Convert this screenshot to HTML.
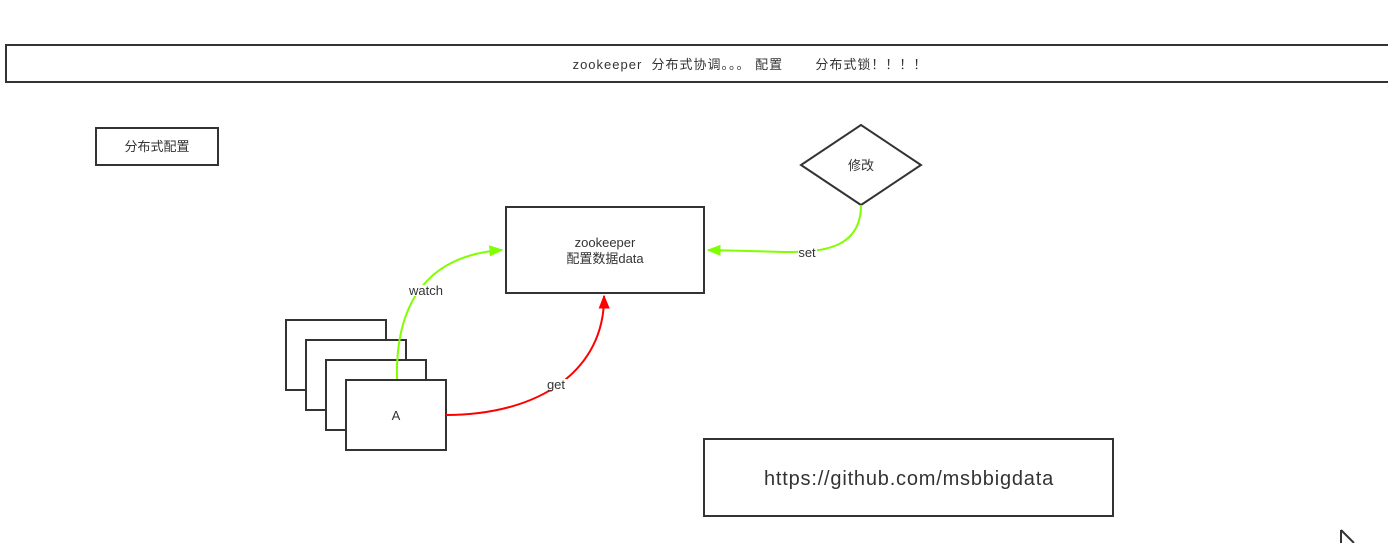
<!DOCTYPE html>
<html><head><meta charset="utf-8"><style>
html,body{margin:0;padding:0;background:#fff;}
svg{display:block;}
text{font-family:"Liberation Sans","Noto Sans CJK SC",sans-serif;fill:#333;}
</style></head><body>
<svg width="1388" height="543" viewBox="0 0 1388 543">
<defs>
<marker id="ga" viewBox="0 0 10 10" refX="9" refY="5" markerWidth="14" markerHeight="14" markerUnits="userSpaceOnUse" orient="auto"><path d="M0,1 L10,5 L0,9 z" fill="#7fff00"/></marker>
<marker id="ra" viewBox="0 0 10 10" refX="9" refY="5" markerWidth="14" markerHeight="14" markerUnits="userSpaceOnUse" orient="auto"><path d="M0,1 L10,5 L0,9 z" fill="#ff0000"/></marker>
</defs>
<rect x="6" y="45" width="1390" height="37" fill="#fff" stroke="#333" stroke-width="2"/>
<text x="750" y="69" font-size="13" text-anchor="middle" letter-spacing="1" xml:space="preserve">zookeeper  分布式协调。。。 配置       分布式锁！！！！</text>
<rect x="96" y="128" width="122" height="37" fill="#fff" stroke="#333" stroke-width="2"/>
<text x="157" y="151" font-size="13" text-anchor="middle">分布式配置</text>
<polygon points="861,125 921,165 861,205 801,165" fill="#fff" stroke="#333" stroke-width="2"/>
<text x="861" y="170" font-size="13" text-anchor="middle">修改</text>
<rect x="506" y="207" width="198" height="86" fill="#fff" stroke="#333" stroke-width="2"/>
<text x="605" y="247" font-size="13" text-anchor="middle">zookeeper</text>
<text x="605" y="263" font-size="13" text-anchor="middle">配置数据data</text>
<rect x="286" y="320" width="100" height="70" fill="#fff" stroke="#333" stroke-width="2"/>
<rect x="306" y="340" width="100" height="70" fill="#fff" stroke="#333" stroke-width="2"/>
<rect x="326" y="360" width="100" height="70" fill="#fff" stroke="#333" stroke-width="2"/>
<path d="M397,380 C395,300 430,255 502,250" fill="none" stroke="#7fff00" stroke-width="2" marker-end="url(#ga)"/>
<rect x="346" y="380" width="100" height="70" fill="#fff" stroke="#333" stroke-width="2"/>
<text x="396" y="420" font-size="13" text-anchor="middle">A</text>
<path d="M446,415 C540,415 605,370 604,296" fill="none" stroke="#ff0000" stroke-width="2" marker-end="url(#ra)"/>
<path d="M861,205 C861,250 820,252 785,252 L708,250" fill="none" stroke="#7fff00" stroke-width="2" marker-end="url(#ga)"/>
<rect x="406" y="285" width="40" height="11" fill="#fff"/>
<text x="426" y="295" font-size="13" text-anchor="middle">watch</text>
<rect x="545" y="379" width="22" height="11" fill="#fff"/>
<text x="556" y="389" font-size="13" text-anchor="middle">get</text>
<rect x="798" y="247" width="19" height="11" fill="#fff"/>
<text x="807" y="257" font-size="13" text-anchor="middle">set</text>
<rect x="704" y="439" width="409" height="77" fill="#fff" stroke="#333" stroke-width="2"/>
<text x="909" y="485" font-size="20" text-anchor="middle" letter-spacing="0.8">https://github.com/msbbigdata</text>
<path d="M1341,530 L1341,543 M1341,530 L1354,543" stroke="#333" stroke-width="2" fill="none"/>
</svg>
</body></html>
